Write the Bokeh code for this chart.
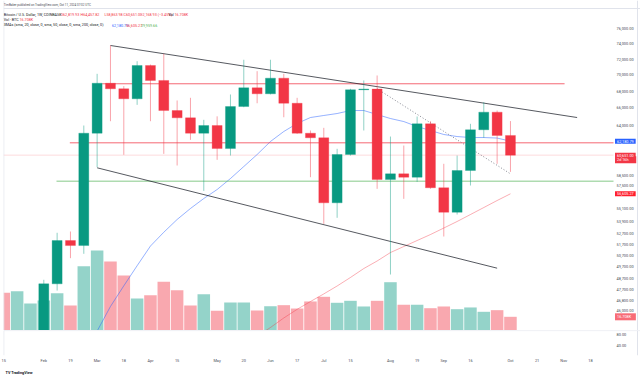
import numpy as np
import pandas as pd
from bokeh.plotting import figure
from bokeh.models import (Range1d, LinearScale, FixedTicker, NumeralTickFormatter,
                          Label, Span, Title, ColumnDataSource)
from bokeh.layouts import column
from bokeh.embed import file_html
from bokeh.resources import INLINE

# ---------------- data ----------------
week_start = ["2024-01-15", "2024-01-22", "2024-01-29", "2024-02-05", "2024-02-12",
              "2024-02-19", "2024-02-26", "2024-03-04", "2024-03-11", "2024-03-18",
              "2024-03-25", "2024-04-01", "2024-04-08", "2024-04-15", "2024-04-22",
              "2024-04-29", "2024-05-06", "2024-05-13", "2024-05-20", "2024-05-27",
              "2024-06-03", "2024-06-10", "2024-06-17", "2024-06-24", "2024-07-01",
              "2024-07-08", "2024-07-15", "2024-07-22", "2024-07-29", "2024-08-05",
              "2024-08-12", "2024-08-19", "2024-08-26", "2024-09-02", "2024-09-09",
              "2024-09-16", "2024-09-23", "2024-09-30", "2024-10-07"]
opens = [41700, 41600, 42000, 42600, 48200, 52075, 51610, 63075, 68960, 68280,
         67070, 71180, 69300, 65680, 64830, 63075, 63945, 61370, 66150, 68400,
         67670, 69590, 66540, 63075, 62560, 55700, 60720, 68160, 68250, 58070,
         58660, 58310, 64140, 57220, 54770, 59010, 63460, 65490, 62819.93]
highs = [43000, 42300, 43900, 48550, 52800, 52920, 63945, 70130, 73770, 68600,
         71730, 71300, 72680, 66870, 67190, 64600, 65000, 67590, 71910, 70460,
         71910, 70130, 67190, 63380, 63680, 61340, 68280, 69300, 69920, 62700,
         61700, 64980, 64440, 59720, 60610, 64140, 66660, 65680, 64457.82]
lows = [40500, 38500, 41800, 42300, 47625, 50460, 50855, 59360, 64440, 60690,
        66350, 64440, 60790, 59540, 62330, 56900, 60145, 60610, 66070, 66540,
        67600, 64900, 63000, 58310, 53650, 54230, 60600, 63380, 57110, 49010,
        56100, 57820, 57110, 52450, 54550, 57450, 62560, 59720, 58863.98]
closes = [41600, 42000, 42600, 48200, 52075, 51610, 63075, 68960, 68280, 67070,
          71180, 69300, 65680, 64830, 63075, 63945, 61370, 66150, 68400, 67670,
          69590, 66540, 63075, 62560, 55700, 60720, 68160, 68250, 58070, 58660,
          58310, 64140, 57220, 54770, 59010, 63460, 65490, 62819.93, 60651.00]
volume_k = [46.0, 48.0, 32.9, 36.6, 45.5, 30.5, 78.4, 97.6, 84.2, 67.1,
            39.0, 43.1, 59.4, 49.2, 30.5, 44.3, 24.0, 34.2, 34.2, 24.4,
            29.6, 30.9, 26.8, 35.4, 41.1, 33.8, 36.2, 29.3, 36.2, 58.9,
            31.4, 31.4, 27.2, 29.3, 26.0, 28.1, 22.8, 24.8, 16.708]
nan = float("nan")
sma20 = [nan, nan, nan, nan, nan, nan, 42600, 44300, 46290, 48030,
         49785, 51565, 52850, 54070, 55140, 56130, 57040, 58170, 59430, 60720,
         62145, 63265, 64180, 64865, 65100, 65330, 65680, 65680, 65210, 64750,
         64400, 63830, 63380, 62930, 62700, 62590, 62590, 62530, 62180.79]
sma50 = [nan] * 19 + [43900, 44585, 45350, 46055, 46700, 47340, 48015, 48750, 49535,
                      50205, 50970, 51520, 52075, 52635, 53250, 53875, 54550, 55235,
                      55930, 56605.27]

# drawings (time, price)
upper_trend = (["2024-03-11", "2024-11-11"], [73768, 64865])
lower_trend = (["2024-03-04", "2024-09-30"], [59295, 49566])
dotted_trend = (["2024-07-29", "2024-10-07"], [68278, 58660])
resist_level = (["2024-03-06 16:00", "2024-11-04 10:00"], 68893)
red_level = ("2024-02-18 16:00", 62000)       # runs to the price scale
green_level = ("2024-02-11 16:00", 57895)     # runs to the price scale
last_price = 60651.00

price_ticks = [76000, 74000, 72000, 70000, 68000, 66000, 64000, 58500, 57500, 55100,
               53900, 52700, 51700, 50700, 49700, 48700, 47700, 46800, 46000]
tick_dates = ["2024-01-15", "2024-02-05", "2024-02-19", "2024-03-04", "2024-03-18",
              "2024-04-01", "2024-04-15", "2024-05-06", "2024-05-20", "2024-06-03",
              "2024-06-17", "2024-07-01", "2024-07-15", "2024-08-05", "2024-08-19",
              "2024-09-02", "2024-09-16", "2024-10-07", "2024-10-21", "2024-11-04",
              "2024-11-18"]
tick_labels = ["15", "Feb", "19", "Mar", "18", "Apr", "15", "May", "20", "Jun", "17",
               "Jul", "15", "Aug", "19", "Sep", "16", "Oct", "21", "Nov", "18"]
osc_ticks = [40, 80]

# ---------------- helpers ----------------
origin = pd.Timestamp(week_start[0])


def widx(d):
    return (pd.Timestamp(d) - origin) / pd.Timedelta(days=7)


FONT = "Roboto"
GREEN = "#089981"
RED = "#f23645"
GRID = "#e0e3eb"
TXT = "#131722"

x = np.array([widx(d) for d in week_start])
o = np.array(opens, dtype=float)
h = np.array(highs, dtype=float)
l = np.array(lows, dtype=float)
c = np.array(closes, dtype=float)
up = c >= o
src = ColumnDataSource(dict(
    x=x, o=o, h=h, l=l, c=c,
    top=np.maximum(o, c), bot=np.minimum(o, c),
    color=np.where(up, GREEN, RED),
    vol=np.array(volume_k), sma20=np.array(sma20), sma50=np.array(sma50)))

# ---------------- geometry ----------------
W = 640
LB = 3                      # left border
FRAME_W = W - LB
PX_PER_WEEK = 13.333
x_start = -0.3 / PX_PER_WEEK
x_range = Range1d(x_start, x_start + FRAME_W / PX_PER_WEEK)
PLOT_EDGE = x_start + 610 / PX_PER_WEEK      # where the price scale begins
RIGHT_LINE = x_start + 634 / PX_PER_WEEK

TOP_PAD = 8
PANE_H = 322
P_LO, P_HI = 44347.0, 78804.0
k = np.log(P_HI / P_LO) / PANE_H
y_top = P_HI * np.exp(TOP_PAD * k)
FH = PANE_H + TOP_PAD

# ---------------- main pane ----------------
p = figure(width=W, height=FH, x_range=x_range,
           y_range=Range1d(P_LO, y_top), y_axis_type="log",
           y_axis_location="right", x_axis_location=None,
           output_backend="svg", toolbar_location=None,
           min_border_left=LB, min_border_right=0, min_border_top=0, min_border_bottom=0)
p.outline_line_color = None
p.grid.visible = False
p.background_fill_color = "white"
p.border_fill_color = "white"
p.extra_y_ranges = {"vol": Range1d(0, FH * 1.2196)}
p.extra_y_scales = {"vol": LinearScale()}

ax = p.yaxis[0]
ax.ticker = FixedTicker(ticks=price_ticks, minor_ticks=[])
ax.formatter = NumeralTickFormatter(format="0,0.00")
ax.axis_line_color = None
ax.major_tick_line_color = None
ax.minor_tick_line_color = None
ax.major_tick_out = 0
ax.major_label_standoff = -24
ax.major_label_text_font = FONT
ax.major_label_text_font_size = "3.9px"
ax.major_label_text_color = "#4a4d57"

# volume overlay
p.vbar(x="x", top="vol", bottom=0, width=0.94, fill_color="color", fill_alpha=0.43,
       line_color=None, y_range_name="vol", source=src)

# frame lines
p.add_layout(Span(location=x_start + 0.02, dimension="height", line_color=GRID, line_width=1))
p.add_layout(Span(location=RIGHT_LINE, dimension="height", line_color=GRID, line_width=1))
p.add_layout(Span(location=P_HI, dimension="width", line_color=GRID, line_width=1))

# last price line
p.line([x_start, PLOT_EDGE], [last_price, last_price], line_color=RED,
       line_alpha=0.18, line_width=1)

# moving averages
p.line(x="x", y="sma20", source=src, line_color="#2962ff", line_alpha=0.55, line_width=0.9)
p.line(x="x", y="sma50", source=src, line_color=RED, line_alpha=0.45, line_width=0.9)

# horizontal levels
p.line([widx(d) for d in resist_level[0]], [resist_level[1]] * 2,
       line_color=RED, line_alpha=0.75, line_width=1)
p.line([widx(red_level[0]), PLOT_EDGE], [red_level[1]] * 2,
       line_color=RED, line_alpha=0.75, line_width=1)
p.line([widx(green_level[0]), PLOT_EDGE], [green_level[1]] * 2,
       line_color="#4caf50", line_alpha=0.45, line_width=1.6)

# trend lines
for ds, ps in [upper_trend, lower_trend]:
    p.line([widx(d) for d in ds], ps, line_color=TXT, line_alpha=0.8, line_width=0.9)
p.line([widx(d) for d in dotted_trend[0]], dotted_trend[1], line_color="#787b86",
       line_width=0.9, line_dash="1 2")

# candles
p.segment(x0="x", y0="l", x1="x", y1="h", line_color="color", line_alpha=0.45,
          line_width=1, source=src)
p.vbar(x="x", top="top", bottom="bot", width=0.75, fill_color="color",
       line_color="color", line_alpha=0.5, line_width=0.6, source=src)


def lab(fig, ref_x, ref_y, text, color, size, **kw):
    # ref_x / ref_y: page pixel position; converted to frame-relative screen units
    fig.add_layout(Label(x=ref_x - LB, y=FH - ref_y, x_units="screen", y_units="screen",
                         text=text, text_color=color, text_font=FONT,
                         text_font_size=f"{size}px", text_baseline="middle", **kw))


# header
lab(p, 3.3, 4, "TimBaker published on TradingView.com, Oct 11, 2024 07:02 UTC", "#4a4d57", 3.0)
lab(p, 3.3, 14, "Bitcoin / U.S. Dollar, 1W, COINBASE", TXT, 3.7)
for xx, t in [(60, "O62,819.93"), (80, "H64,457.82"), (104, "L58,863.98"),
              (123, "C60,651.00"), (140, "\u22122,168.93 (\u22123.45%)")]:
    lab(p, xx, 14, t, RED, 3.7)
lab(p, 168, 14, "Vol", TXT, 3.7)
lab(p, 174, 14, "16.708K", RED, 3.7)
lab(p, 3.3, 19, "Vol \u00b7 BTC", TXT, 3.7)
lab(p, 19, 19, "16.708K", RED, 3.7)
lab(p, 3.3, 24.5, "3MAs (sma, 20, close, 0, sma, 50, close, 0, sma, 200, close, 0)", TXT, 3.7)
lab(p, 111.5, 24.5, "62,180.79", "#2962ff", 3.7)
lab(p, 125.5, 24.5, "56,605.27", RED, 3.7)
lab(p, 140.5, 24.5, "29,959.66", "#4caf50", 3.7)


def tag(fig, yy, text, bg, alpha=1.0, y_range_name="default", y_offset=0):
    fig.add_layout(Label(x=614.5 - LB, y=yy, x_units="screen", y_units="data",
                         y_range_name=y_range_name, y_offset=y_offset, text=text,
                         text_color="white", text_font=FONT, text_font_size="3.8px",
                         text_baseline="middle", background_fill_color=bg,
                         background_fill_alpha=alpha, padding=(2, 1)))


tag(p, sma20[-1], "62,180.79", "#2962ff")
tag(p, last_price, "2d 16h      ", RED, y_offset=-4.5)
tag(p, last_price, "60,651.00", RED)
tag(p, sma50[-1], "56,605.27", "#ff1e2d")
tag(p, volume_k[-1], "16.708K   ", "#f7525f", alpha=0.85, y_range_name="vol")

# ---------------- lower pane with time axis ----------------
p2 = figure(width=W, height=377 - FH, x_range=x_range, y_range=Range1d(7.6, 92.6),
            y_axis_location="right", output_backend="svg", toolbar_location=None,
            min_border_left=LB, min_border_right=0, min_border_top=0, min_border_bottom=20)
p2.outline_line_color = None
p2.grid.visible = False
p2.background_fill_color = "white"
p2.border_fill_color = "white"

ay = p2.yaxis[0]
ay.ticker = FixedTicker(ticks=osc_ticks, minor_ticks=[])
ay.formatter = NumeralTickFormatter(format="0.00")
ay.axis_line_color = None
ay.major_tick_line_color = None
ay.minor_tick_line_color = None
ay.major_tick_out = 0
ay.major_label_standoff = -24
ay.major_label_text_font = FONT
ay.major_label_text_font_size = "3.9px"
ay.major_label_text_color = "#4a4d57"

axx = p2.xaxis[0]
tick_idx = [widx(d) for d in tick_dates]
axx.ticker = FixedTicker(ticks=tick_idx, minor_ticks=[])
axx.major_label_overrides = {t: s for t, s in zip(tick_idx, tick_labels)}
axx.axis_line_color = None
axx.major_tick_line_color = None
axx.minor_tick_line_color = None
axx.major_tick_out = 0
axx.major_label_standoff = 2
axx.major_label_text_font = FONT
axx.major_label_text_font_size = "3.9px"
axx.major_label_text_color = "#4a4d57"

p2.add_layout(Span(location=92.3, dimension="width", line_color=GRID, line_width=1))
p2.add_layout(Span(location=x_start + 0.02, dimension="height", line_color=GRID, line_width=1))
p2.add_layout(Span(location=RIGHT_LINE, dimension="height", line_color=GRID, line_width=1))

p2.add_layout(Title(text="TV TradingView", text_font=FONT, text_font_size="3.8px",
                    text_font_style="bold", text_color=TXT, align="left",
                    offset=2, standoff=5), "below")

layout = column(p, p2, spacing=0)
open("out.html", "w").write(file_html(layout, INLINE))
